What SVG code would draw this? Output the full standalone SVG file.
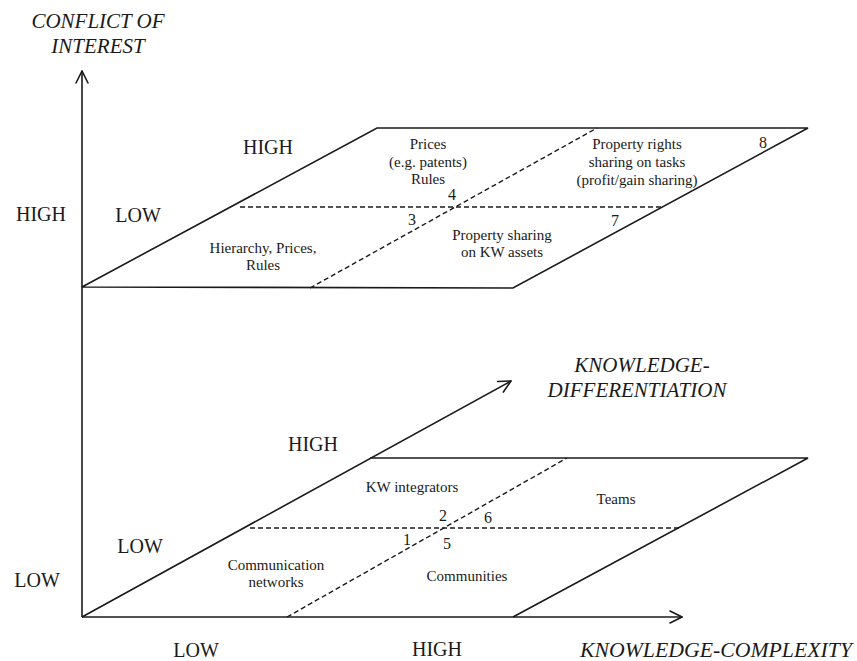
<svg xmlns="http://www.w3.org/2000/svg" width="857" height="661" viewBox="0 0 857 661">
  <defs>
    <style>
      .bg { fill: #ffffff; }
      .edge { fill: none; stroke: #1a1a1a; stroke-width: 1.6; stroke-linejoin: miter; }
      .dash { fill: none; stroke: #1a1a1a; stroke-width: 1.4; stroke-dasharray: 5 3; }
      .axis { fill: none; stroke: #1a1a1a; stroke-width: 1.6; }
      .head { fill: none; stroke: #1a1a1a; stroke-width: 1.6; stroke-linecap: round; stroke-linejoin: miter; }
      .lvl { font-family: "Liberation Serif", "Times New Roman", serif; font-size: 20px; fill: #1a1a1a; text-anchor: middle; }
      .cell { font-family: "Liberation Serif", "Times New Roman", serif; font-size: 15px; fill: #1a1a1a; text-anchor: middle; }
      .num { font-family: "Liberation Serif", "Times New Roman", serif; font-size: 16px; fill: #1a1a1a; text-anchor: middle; }
      .title { font-family: "Liberation Serif", "Times New Roman", serif; font-size: 21px; font-style: italic; fill: #1a1a1a; text-anchor: middle; }
    </style>
    <marker id="arrow" viewBox="0 0 14 14" refX="13" refY="7" markerWidth="14" markerHeight="14" markerUnits="userSpaceOnUse" orient="auto">
      <path class="head" d="M1,1 L13,7 L1,13"/>
    </marker>
  </defs>

  <rect class="bg" x="0" y="0" width="857" height="661"/>

  <!-- axes -->
  <g id="connectors">
    <line class="axis" x1="82" y1="617" x2="82" y2="71" marker-end="url(#arrow)"/>
    <line class="axis" x1="82" y1="617" x2="682" y2="617" marker-end="url(#arrow)"/>
    <line class="axis" x1="82" y1="617" x2="511" y2="381" marker-end="url(#arrow)"/>
  </g>

  <!-- axis titles -->
  <g id="axis-conflict">
    <text class="title" x="98" y="28">CONFLICT OF</text>
    <text class="title" x="98" y="53">INTEREST</text>
  </g>
  <g id="axis-differentiation">
    <text class="title" x="642" y="372">KNOWLEDGE-</text>
    <text class="title" x="637" y="397">DIFFERENTIATION</text>
  </g>
  <g id="axis-complexity">
    <text class="title" x="716" y="657" textLength="272" lengthAdjust="spacingAndGlyphs">KNOWLEDGE-COMPLEXITY</text>
  </g>

  <!-- level labels on the axes -->
  <g id="conflict-levels">
    <text class="lvl" x="41" y="221">HIGH</text>
    <text class="lvl" x="37" y="587">LOW</text>
  </g>
  <g id="complexity-levels">
    <text class="lvl" x="196" y="657">LOW</text>
    <text class="lvl" x="437" y="656">HIGH</text>
  </g>

  <!-- upper plane: high conflict of interest -->
  <g id="plane-high-conflict">
    <polygon class="edge" points="82,287 377,128 808,128 513,288"/>
    <line class="dash" x1="240" y1="207" x2="661" y2="207"/>
    <line class="dash" x1="310" y1="288" x2="597" y2="128"/>
    <text class="lvl" x="268" y="154">HIGH</text>
    <text class="lvl" x="138" y="222">LOW</text>
  </g>
  <g id="cell-3">
    <text class="cell" x="263" y="253">Hierarchy, Prices,</text>
    <text class="cell" x="263" y="270">Rules</text>
    <text class="num" x="412" y="225">3</text>
  </g>
  <g id="cell-4">
    <text class="cell" x="428" y="149">Prices</text>
    <text class="cell" x="428" y="167">(e.g. patents)</text>
    <text class="cell" x="428" y="184">Rules</text>
    <text class="num" x="452" y="200">4</text>
  </g>
  <g id="cell-7">
    <text class="cell" x="502" y="240">Property sharing</text>
    <text class="cell" x="502" y="257">on KW assets</text>
    <text class="num" x="615" y="226">7</text>
  </g>
  <g id="cell-8">
    <text class="cell" x="637" y="149">Property rights</text>
    <text class="cell" x="637" y="167">sharing on tasks</text>
    <text class="cell" x="637" y="185">(profit/gain sharing)</text>
    <text class="num" x="763" y="148">8</text>
  </g>

  <!-- lower plane: low conflict of interest -->
  <g id="plane-low-conflict">
    <polyline class="edge" points="370,458 808,458 513,617"/>
    <line class="dash" x1="250" y1="528" x2="680" y2="528"/>
    <line class="dash" x1="287" y1="617" x2="567" y2="458"/>
    <text class="lvl" x="313" y="451">HIGH</text>
    <text class="lvl" x="140" y="553">LOW</text>
  </g>
  <g id="cell-1">
    <text class="cell" x="276" y="570">Communication</text>
    <text class="cell" x="276" y="587">networks</text>
    <text class="num" x="407" y="545">1</text>
  </g>
  <g id="cell-2">
    <text class="cell" x="412" y="492">KW integrators</text>
    <text class="num" x="443" y="521">2</text>
  </g>
  <g id="cell-5">
    <text class="cell" x="467" y="581">Communities</text>
    <text class="num" x="447" y="549">5</text>
  </g>
  <g id="cell-6">
    <text class="cell" x="616" y="504">Teams</text>
    <text class="num" x="488" y="523">6</text>
  </g>
</svg>
